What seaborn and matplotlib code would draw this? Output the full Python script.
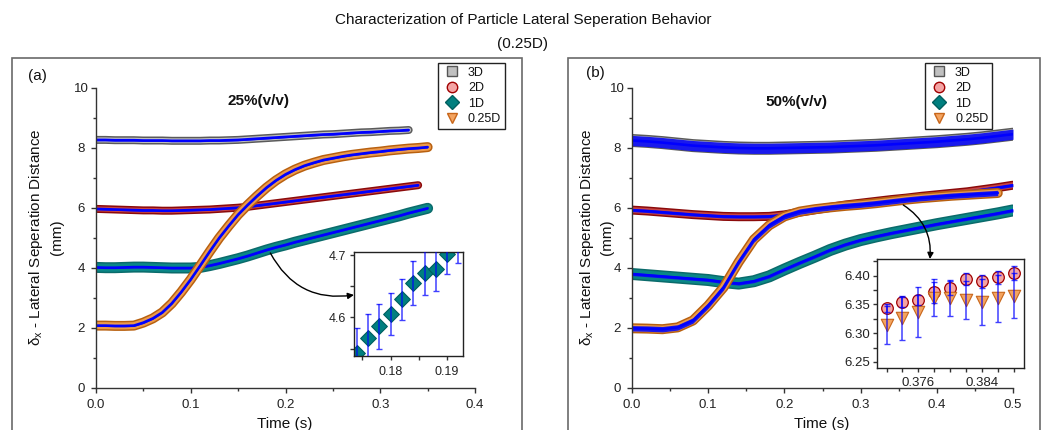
import matplotlib
matplotlib.use("Agg")
import matplotlib.pyplot as plt
import seaborn as sns
import numpy as np
import pandas as pd
from matplotlib.lines import Line2D
from matplotlib.patches import Rectangle
from matplotlib.ticker import MultipleLocator

# ---------------- data ----------------
series_names = ["3D", "2D", "1D", "0.25D"]

# panel (a): 25 % (v/v), sampled every 0.01 s
t_a_3d = [round(0.01 * i, 2) for i in range(34)]
v_a_3d = [8.27, 8.27, 8.26, 8.26, 8.26, 8.25, 8.25, 8.25, 8.24, 8.24, 8.24, 8.24,
          8.25, 8.25, 8.26, 8.27, 8.29, 8.31, 8.33, 8.35, 8.37, 8.39, 8.41, 8.43,
          8.45, 8.46, 8.48, 8.50, 8.52, 8.53, 8.55, 8.57, 8.58, 8.60]
t_a_2d = [round(0.01 * i, 2) for i in range(35)]
v_a_2d = [5.97, 5.96, 5.95, 5.94, 5.93, 5.92, 5.92, 5.91, 5.91, 5.92, 5.93, 5.94,
          5.95, 5.97, 5.99, 6.01, 6.04, 6.08, 6.12, 6.16, 6.20, 6.24, 6.28, 6.32,
          6.36, 6.40, 6.44, 6.48, 6.52, 6.56, 6.60, 6.64, 6.68, 6.72, 6.76]
t_a_1d = [round(0.01 * i, 2) for i in range(36)]
v_a_1d = [4.02, 4.01, 4.01, 4.02, 4.03, 4.03, 4.02, 4.01, 4.00, 4.00, 4.00, 4.02,
          4.08, 4.15, 4.23, 4.31, 4.40, 4.50, 4.60, 4.69, 4.77, 4.86, 4.94, 5.02,
          5.10, 5.18, 5.26, 5.34, 5.42, 5.50, 5.58, 5.66, 5.74, 5.83, 5.91, 5.99]
t_a_q = [round(0.01 * i, 2) for i in range(36)]
v_a_q = [2.08, 2.08, 2.07, 2.07, 2.08, 2.18, 2.32, 2.52, 2.82, 3.20, 3.62, 4.08,
         4.55, 5.00, 5.40, 5.78, 6.10, 6.40, 6.68, 6.92, 7.12, 7.28, 7.41, 7.51,
         7.60, 7.66, 7.72, 7.77, 7.81, 7.85, 7.88, 7.92, 7.95, 7.98, 8.00, 8.03]
err_a = [0.03, 0.03, 0.03, 0.03]

# panel (b): 50 % (v/v), sampled every 0.02 s
t_b = [round(0.02 * i, 2) for i in range(26)]
v_b_3d = [8.25, 8.22, 8.18, 8.13, 8.08, 8.05, 8.02, 8.00, 7.99, 7.99, 8.00, 8.01,
          8.02, 8.03, 8.05, 8.07, 8.09, 8.12, 8.15, 8.18, 8.21, 8.25, 8.29, 8.34,
          8.40, 8.46]
v_b_2d = [5.93, 5.90, 5.86, 5.82, 5.78, 5.75, 5.72, 5.71, 5.71, 5.72, 5.77, 5.86,
          5.94, 6.02, 6.10, 6.16, 6.22, 6.28, 6.33, 6.39, 6.44, 6.49, 6.54, 6.61,
          6.68, 6.76]
v_b_1d = [3.80, 3.76, 3.72, 3.68, 3.64, 3.60, 3.53, 3.48, 3.56, 3.72, 3.95, 4.17,
          4.38, 4.60, 4.78, 4.93, 5.05, 5.16, 5.26, 5.36, 5.46, 5.55, 5.64, 5.73,
          5.82, 5.92]
t_b_q = [round(0.02 * i, 2) for i in range(25)]
v_b_q = [1.99, 1.98, 1.96, 2.02, 2.25, 2.75, 3.35, 4.20, 4.95, 5.42, 5.72, 5.88,
         5.96, 6.02, 6.07, 6.11, 6.16, 6.22, 6.28, 6.33, 6.37, 6.41, 6.44, 6.47,
         6.50]
err_b = [0.17, 0.05, 0.05, 0.09]

# zoomed insets
ins_a_t = [0.174, 0.176, 0.178, 0.180, 0.182, 0.184, 0.186, 0.188, 0.190, 0.192]
ins_a_v = [4.543, 4.567, 4.586, 4.605, 4.629, 4.655, 4.671, 4.677, 4.701, 4.722]
ins_a_err = [0.040, 0.038, 0.036, 0.034, 0.033, 0.035, 0.035, 0.034, 0.032, 0.034]

ins_b_t = [0.372, 0.374, 0.376, 0.378, 0.380, 0.382, 0.384, 0.386, 0.388]
ins_b_2d = [6.344, 6.355, 6.358, 6.371, 6.379, 6.394, 6.390, 6.397, 6.404]
ins_b_2d_err = [0.007, 0.010, 0.009, 0.018, 0.012, 0.010, 0.012, 0.011, 0.012]
ins_b_q = [6.315, 6.326, 6.337, 6.362, 6.361, 6.358, 6.354, 6.361, 6.365]
ins_b_q_err = [0.033, 0.037, 0.043, 0.032, 0.031, 0.033, 0.040, 0.041, 0.039]

# ---------------- style ----------------
sns.set_theme(style="ticks")
plt.rcParams["font.family"] = ["Liberation Sans", "DejaVu Sans"]
plt.rcParams["mathtext.fontset"] = "custom"
plt.rcParams["mathtext.rm"] = "Liberation Sans"
plt.rcParams["axes.edgecolor"] = "#333333"
plt.rcParams["axes.linewidth"] = 1.0
plt.rcParams["xtick.color"] = "#333333"
plt.rcParams["ytick.color"] = "#333333"
plt.rcParams["xtick.labelcolor"] = "#222222"
plt.rcParams["ytick.labelcolor"] = "#222222"

BLUE = "#0000ff"
face = {"3D": "#c0c0c0", "2D": "#f4a4a4", "1D": "#007f7f", "0.25D": "#f4a460"}
edge = {"3D": "#555555", "2D": "#a00000", "1D": "#005f5f", "0.25D": "#c8661a"}
band_outer = {"3D": "#5a5a5a", "2D": "#8b0a0a", "1D": "#0b6b6b", "0.25D": "#b8600f"}
band_inner = {"3D": "#bdbdbd", "2D": "#c64444", "1D": "#0a8787", "0.25D": "#eb9a4c"}
marker = {"3D": "s", "2D": "o", "1D": "D", "0.25D": "v"}

W, H = 1046, 430
PX = 0.72  # points per pixel at 100 dpi

fig = plt.figure(figsize=(W / 100, H / 100), dpi=100)


def fbox(x0, y0, x1, y1):
    return [x0 / W, 1 - y1 / H, (x1 - x0) / W, (y1 - y0) / H]


def draw_series(ax, t, v, name, width_px, err, z):
    df = pd.DataFrame({"t": t, "v": v})
    kw = dict(data=df, x="t", y="v", ax=ax, estimator=None, sort=False,
              legend=False)
    sns.lineplot(color=band_outer[name], lw=width_px * PX,
                 solid_capstyle="round", zorder=z, **kw)
    sns.lineplot(color=band_inner[name], lw=(width_px - 3) * PX,
                 solid_capstyle="round", zorder=z + 0.01, **kw)
    vv = np.asarray(v)
    ax.fill_between(t, vv - err, vv + err, color="#1010f0", lw=0, alpha=0.95,
                    zorder=z + 0.02)
    sns.lineplot(color=BLUE, lw=2.6 * PX, zorder=z + 0.03, **kw)


def style_main(ax, xmax):
    sns.despine(ax=ax)
    ax.set_xlim(0, xmax)
    ax.set_ylim(0, 10)
    ax.set_xticks(np.arange(0, xmax + 1e-9, 0.1))
    ax.set_xticklabels([f"{x:.1f}" for x in np.arange(0, xmax + 1e-9, 0.1)])
    ax.xaxis.set_minor_locator(MultipleLocator(0.05))
    ax.set_yticks(range(0, 11, 2))
    ax.yaxis.set_minor_locator(MultipleLocator(1))
    ax.tick_params(axis="both", which="major", direction="out", length=3.6,
                   width=1, labelsize=9.5)
    ax.tick_params(axis="both", which="minor", direction="out", length=2.4,
                   width=1)
    ax.tick_params(axis="y", pad=7.2)
    ax.tick_params(axis="x", pad=4.5)
    plt.setp(ax.get_yticklabels(), ha="center")
    ax.set_xlabel("")
    ax.set_ylabel("")
    ax.patch.set_alpha(0)


# panel frames
for x0, x1 in [(12, 522), (568, 1040)]:
    fig.patches.append(Rectangle((x0 / W, -0.1), (x1 - x0) / W, 1 - 58 / H + 0.1,
                                 transform=fig.transFigure, fill=False,
                                 edgecolor="#6a6a6a", lw=1.2))

fig.text(0.5, 1 - 20 / H, "Characterization of Particle Lateral Seperation Behavior",
         ha="center", va="center", fontsize=11, color="#111111")
fig.text(0.5, 1 - 44 / H, "(0.25D)", ha="center", va="center", fontsize=11,
         color="#111111")

# ---------- panel (a) ----------
ax_a = fig.add_axes(fbox(96, 88, 475, 388))
widths_a = [8, 8, 11, 10]
data_a = [(t_a_3d, v_a_3d), (t_a_2d, v_a_2d), (t_a_1d, v_a_1d), (t_a_q, v_a_q)]
for i, (name, (t, v), w, e) in enumerate(zip(series_names, data_a, widths_a, err_a)):
    draw_series(ax_a, t, v, name, w, e, 2 + 0.1 * i)
style_main(ax_a, 0.4)

# ---------- panel (b) ----------
ax_b = fig.add_axes(fbox(632, 88, 1013, 388))
widths_b = [13, 9, 12, 10]
data_b = [(t_b, v_b_3d), (t_b, v_b_2d), (t_b, v_b_1d), (t_b_q, v_b_q)]
for i, (name, (t, v), w, e) in enumerate(zip(series_names, data_b, widths_b, err_b)):
    draw_series(ax_b, t, v, name, w, e, 2 + 0.1 * i)
style_main(ax_b, 0.5)

# labels
ylab = "δ$_{\\mathregular{x}}$ - Lateral Seperation Distance\n(mm)"
for xc, in [(45.5,), (596,)]:
    fig.text(xc / W, 1 - 237 / H, ylab, rotation=90, ha="center", va="center",
             multialignment="center", fontsize=11, color="#111111",
             linespacing=1.45)
fig.text(285 / W, 1 - 424 / H, "Time (s)", ha="center", va="center", fontsize=11,
         color="#111111")
fig.text(822 / W, 1 - 424 / H, "Time (s)", ha="center", va="center", fontsize=11,
         color="#111111")
fig.text(37 / W, 1 - 76 / H, "(a)", ha="center", va="center", fontsize=11,
         color="#111111")
fig.text(595 / W, 1 - 73 / H, "(b)", ha="center", va="center", fontsize=11,
         color="#111111")
fig.text(258 / W, 1 - 101 / H, "25%(v/v)", ha="center", va="center", fontsize=11,
         fontweight="bold", color="#111111")
fig.text(796 / W, 1 - 102 / H, "50%(v/v)", ha="center", va="center", fontsize=11,
         fontweight="bold", color="#111111")

# legends
handles = [Line2D([], [], ls="none", marker=marker[n], mfc=face[n], mec=edge[n],
                  mew=1, ms=7.5 if n != "1D" else 6.8) for n in series_names]
for x0, y0 in [(438, 63), (925, 63)]:
    leg = fig.legend(handles, series_names, loc="upper left",
                     bbox_to_anchor=(x0 / W, 1 - y0 / H),
                     bbox_transform=fig.transFigure, borderaxespad=0,
                     frameon=True, fancybox=False, framealpha=1,
                     edgecolor="#222222", fontsize=9, handlelength=1.6,
                     handletextpad=0.5, borderpad=0.3, labelspacing=0.28)
    leg.get_frame().set_linewidth(1.0)
    for txt in leg.get_texts():
        txt.set_color("#111111")


def style_inset(ax):
    for s in ax.spines.values():
        s.set_visible(True)
        s.set_color("#222222")
        s.set_linewidth(1.0)
    ax.set_facecolor("white")
    ax.tick_params(axis="both", which="both", direction="out", length=2.9,
                   width=1, top=False, right=False)
    ax.set_xlabel("")
    ax.set_ylabel("")


# ---------- inset (a) ----------
ins_a = fig.add_axes(fbox(354, 252, 463, 356))
ins_a.errorbar(ins_a_t, ins_a_v, yerr=ins_a_err, fmt="none", ecolor=BLUE,
               elinewidth=1.1, capsize=2.4, capthick=1.0, alpha=0.75, zorder=3)
sns.scatterplot(x=ins_a_t, y=ins_a_v, ax=ins_a, marker="D", s=64,
                color=face["1D"], edgecolor=edge["1D"], linewidth=0.8,
                zorder=2, legend=False)
ins_a.set_xlim(0.1735, 0.1928)
ins_a.set_ylim(4.538, 4.705)
ins_a.set_xticks([0.18, 0.19])
ins_a.set_xticklabels(["0.18", "0.19"])
ins_a.xaxis.set_minor_locator(MultipleLocator(0.005))
ins_a.set_yticks([4.6, 4.7])
ins_a.set_yticklabels(["4.6", "4.7"])
ins_a.yaxis.set_minor_locator(MultipleLocator(0.05))
style_inset(ins_a)
ins_a.tick_params(axis="both", labelsize=9)
ins_a.tick_params(axis="y", pad=3)
ins_a.tick_params(axis="x", pad=4)
ins_a.annotate("", xy=(0.0, 0.587), xycoords="axes fraction",
               xytext=(0.184, 4.5), textcoords=ax_a.transData,
               arrowprops=dict(arrowstyle="-|>", color="black", lw=1.0,
                               connectionstyle="arc3,rad=0.35", shrinkA=0,
                               shrinkB=0, mutation_scale=9),
               annotation_clip=False)

# ---------- inset (b) ----------
ins_b = fig.add_axes(fbox(877, 259, 1024, 368))
sns.scatterplot(x=ins_b_t, y=ins_b_2d, ax=ins_b, marker="o", s=70,
                color=face["2D"], edgecolor=edge["2D"], linewidth=0.9,
                zorder=2, legend=False)
sns.scatterplot(x=ins_b_t, y=ins_b_q, ax=ins_b, marker="v", s=80,
                color=face["0.25D"], edgecolor=edge["0.25D"], linewidth=0.8,
                zorder=2.5, legend=False)
ins_b.errorbar(ins_b_t, ins_b_2d, yerr=ins_b_2d_err, fmt="none", ecolor=BLUE,
               elinewidth=1.1, capsize=2.4, capthick=1.0, alpha=0.75, zorder=3)
ins_b.errorbar(ins_b_t, ins_b_q, yerr=ins_b_q_err, fmt="none", ecolor=BLUE,
               elinewidth=1.1, capsize=2.4, capthick=1.0, alpha=0.75, zorder=3)
ins_b.set_xlim(0.3708, 0.3893)
ins_b.set_ylim(6.2395, 6.429)
ins_b.set_xticks([0.376, 0.384])
ins_b.set_xticklabels(["0.376", "0.384"])
ins_b.xaxis.set_minor_locator(MultipleLocator(0.002))
ins_b.set_yticks([6.25, 6.30, 6.35, 6.40])
ins_b.set_yticklabels(["6.25", "6.30", "6.35", "6.40"])
ins_b.yaxis.set_minor_locator(MultipleLocator(0.025))
style_inset(ins_b)
ins_b.tick_params(axis="x", which="minor", length=2.9)
ins_b.tick_params(axis="both", labelsize=9.5)
ins_b.tick_params(axis="y", pad=2.2)
ins_b.tick_params(axis="x", pad=3.4)
ins_b.annotate("", xy=(0.36, 1.0), xycoords="axes fraction",
               xytext=(0.356, 6.1), textcoords=ax_b.transData,
               arrowprops=dict(arrowstyle="-|>", color="black", lw=1.0,
                               connectionstyle="arc3,rad=-0.3", shrinkA=0,
                               shrinkB=0, mutation_scale=9),
               annotation_clip=False)

fig.savefig("out.png", dpi=100)
